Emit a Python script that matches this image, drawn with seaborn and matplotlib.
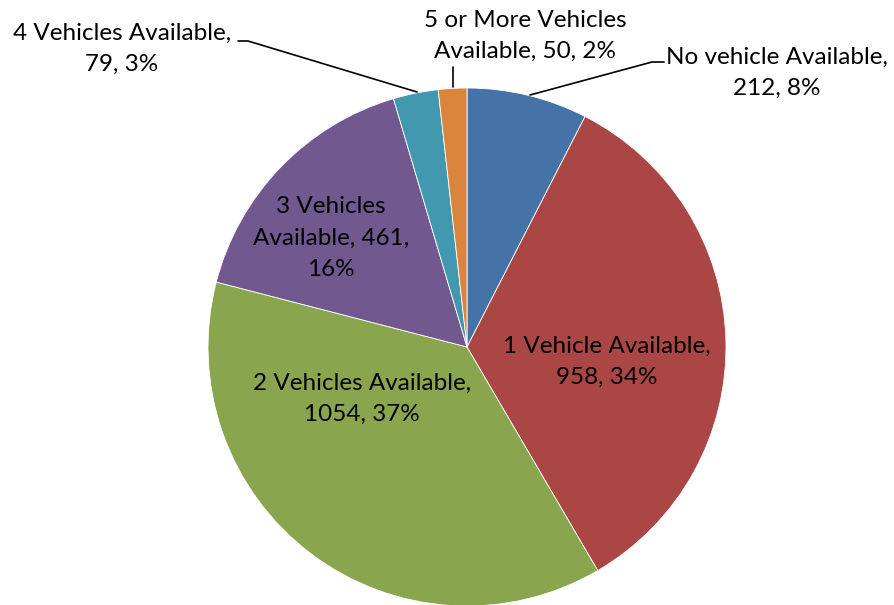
import matplotlib
matplotlib.use("Agg")
import matplotlib.pyplot as plt
import seaborn as sns

sns.set_theme(style="white")
plt.rcParams['font.family'] = ['Lato', 'DejaVu Sans']

categories = ["No vehicle Available", "1 Vehicle Available", "2 Vehicles Available",
              "3 Vehicles Available", "4 Vehicles Available", "5 or More Vehicles Available"]
values = [212, 958, 1054, 461, 79, 50]
percents = ["8%", "34%", "37%", "16%", "3%", "2%"]
label_texts = ["No vehicle Available,\n212, 8%",
               "1 Vehicle Available,\n958, 34%",
               "2 Vehicles Available,\n1054, 37%",
               "3 Vehicles\nAvailable, 461,\n16%",
               "4 Vehicles Available,\n79, 3%",
               "5 or More Vehicles\nAvailable, 50, 2%"]
colors = ["#4572A7", "#AA4643", "#89A54E", "#71588F", "#4198AF", "#DB843D"]

W, H = 894, 605
fig = plt.figure(figsize=(W / 100, H / 100), dpi=100)
ax = fig.add_axes([0, 0, 1, 1])

cx, cy, r = 467, H - 347, 259
wedges, _ = ax.pie(values, colors=colors, startangle=90, counterclock=False,
                   center=(cx, cy), radius=r, frame=True,
                   wedgeprops=dict(edgecolor="white", linewidth=0.6))
ax.set_xlim(0, W)
ax.set_ylim(0, H)
ax.set_aspect("equal")
ax.axis("off")

# label positions in pixel coords (x, y from top)
label_pos = [(777, 73), (607, 362), (362, 399), (331, 238), (122, 49), (525, 36)]
for txt, (lx, ly) in zip(label_texts, label_pos):
    ax.text(lx, H - ly, txt, ha="center", va="center", fontsize=17.5,
            color="black", linespacing=1.6)

# leader lines
leaders = [
    [(664, 62), (652, 62), (530, 95)],
    [(238, 41), (248, 41), (417, 92)],
    [(453, 67), (453, 87)],
]
for pts in leaders:
    xs = [p[0] for p in pts]
    ys = [H - p[1] for p in pts]
    ax.plot(xs, ys, color="black", lw=1.2)

fig.savefig("out.png", dpi=100)
